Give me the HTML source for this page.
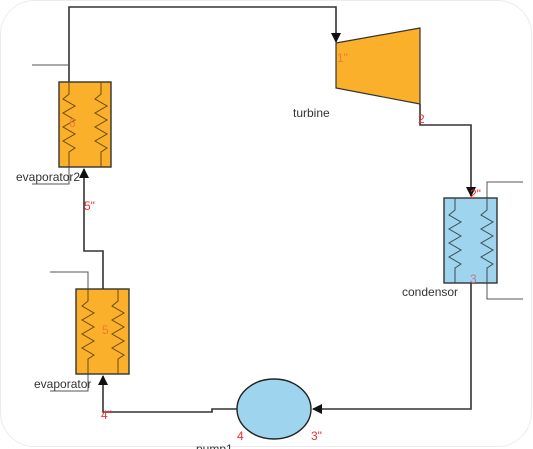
<!DOCTYPE html>
<html><head><meta charset="utf-8"><style>
html,body{margin:0;padding:0;background:#fff;}
svg{display:block;}
text{font-family:"Liberation Sans",sans-serif;}
</style></head><body>
<svg width="533" height="449" viewBox="0 0 533 449" xmlns="http://www.w3.org/2000/svg">
<defs>
<marker id="a" markerWidth="10" markerHeight="10" refX="9" refY="5" orient="auto" markerUnits="userSpaceOnUse">
<path d="M0,0 L10,5 L0,10 z" fill="#111"/></marker>
</defs>
<rect x="0.5" y="0.5" width="531" height="446" rx="34" fill="none" stroke="#ececec" stroke-width="1"/>

<g fill="none" stroke="#333" stroke-width="1.6">
<polyline points="69,82 69,7 336,7 336,42" marker-end="url(#a)"/>
<polyline points="420,104 420,125 471,125 471,196" marker-end="url(#a)"/>
<polyline points="471,283 471,409 313,409" marker-end="url(#a)"/>
<polyline points="237,409 212,409 212,412 103,412 103,376" marker-end="url(#a)"/>
<polyline points="103,289 103,251 84,251 84,169" marker-end="url(#a)"/>
</g>
<g fill="none" stroke="#555" stroke-width="1">
<polyline points="32,65 69,65"/>
<polyline points="69,167 69,184 32,184"/>
<polyline points="50,272 88,272 88,289"/>
<polyline points="88,374 88,391 50,391"/>
<polyline points="523,182 487,182 487,198"/>
<polyline points="487,283 487,299 523,299"/>
</g>

<rect x="59" y="82" width="52" height="85" fill="#fbb02b" stroke="#333" stroke-width="1.4"/>
<g fill="none" stroke="#6a4a10" stroke-width="1">
<polyline points="69,82 69,94 63,99 75,106 63,113 75,120 63,127 75,134 63,141 75,148 69,152 69,167"/>
<polyline points="101,82 101,94 95,99 107,106 95,113 107,120 95,127 107,134 95,141 107,148 101,152 101,167"/>
</g>
<rect x="76" y="289" width="53" height="85" fill="#fbb02b" stroke="#333" stroke-width="1.4"/>
<g fill="none" stroke="#6a4a10" stroke-width="1">
<polyline points="88,289 88,301 82,306 94,313 82,320 94,327 82,334 94,341 82,348 94,355 88,359 88,374"/>
<polyline points="118,289 118,301 112,306 124,313 112,320 124,327 112,334 124,341 112,348 124,355 118,359 118,374"/>
</g>
<rect x="444" y="198" width="53" height="85" fill="#9fd4ee" stroke="#333" stroke-width="1.4"/>
<g fill="none" stroke="#3a4a55" stroke-width="1">
<polyline points="455,198 455,210 449,215 461,222 449,229 461,236 449,243 461,250 449,257 461,264 455,268 455,283"/>
<polyline points="487,198 487,210 481,215 493,222 481,229 493,236 481,243 493,250 481,257 493,264 487,268 487,283"/>
</g>
<polygon points="336,43 420,28 420,104 336,88" fill="#fbb02b" stroke="#333" stroke-width="1.2"/>
<ellipse cx="274" cy="409" rx="37" ry="30" fill="#9fd4ee" stroke="#222" stroke-width="1.4"/>

<g font-size="12" fill="#333">
<text x="293" y="117">turbine</text>
<text x="402" y="296">condensor</text>
<text x="16" y="181">evaporator2</text>
<text x="34" y="388">evaporator</text>
<text x="196" y="453">pump1</text>
</g>
<g font-size="12" fill="#f03030">
<text x="418" y="123">2</text>
<text x="470" y="198">2"</text>
<text x="84" y="210">5"</text>
<text x="101" y="419">4"</text>
<text x="237" y="440">4</text>
<text x="311" y="440">3"</text>
</g>
<g font-size="12" fill="#f07a30">
<text x="337" y="62">1"</text>
<text x="69" y="127">6</text>
<text x="102" y="334">5</text>
</g>
<text x="470" y="283" font-size="12" fill="#c07a90">3</text>
</svg>
</body></html>
